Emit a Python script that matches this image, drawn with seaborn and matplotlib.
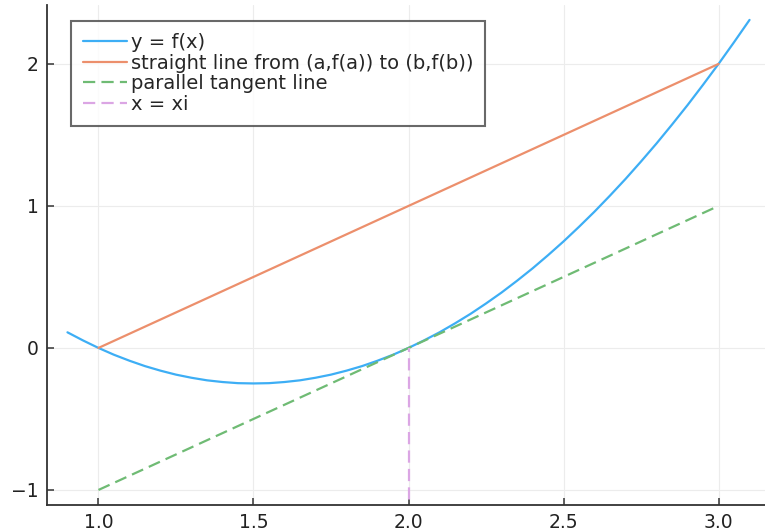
import numpy as np
import pandas as pd
import seaborn as sns
import matplotlib
matplotlib.use("Agg")
import matplotlib.pyplot as plt

# curve y = f(x)
curve_x = [0.90, 0.95, 1.00, 1.05, 1.10, 1.15, 1.20, 1.25, 1.30, 1.35, 1.40, 1.45,
           1.50, 1.55, 1.60, 1.65, 1.70, 1.75, 1.80, 1.85, 1.90, 1.95, 2.00, 2.05,
           2.10, 2.15, 2.20, 2.25, 2.30, 2.35, 2.40, 2.45, 2.50, 2.55, 2.60, 2.65,
           2.70, 2.75, 2.80, 2.85, 2.90, 2.95, 3.00, 3.05, 3.10]
curve_y = [0.11, 0.053, 0.0, -0.048, -0.09, -0.128, -0.16, -0.188, -0.21, -0.228, -0.24, -0.248,
           -0.25, -0.248, -0.24, -0.228, -0.21, -0.188, -0.16, -0.128, -0.09, -0.048, 0.0, 0.053,
           0.11, 0.173, 0.24, 0.313, 0.39, 0.473, 0.56, 0.653, 0.75, 0.853, 0.96, 1.073,
           1.19, 1.313, 1.44, 1.573, 1.71, 1.853, 2.0, 2.153, 2.31]

secant_x = [1.0, 3.0]
secant_y = [0.0, 2.0]

tangent_x = [1.0, 3.0]
tangent_y = [-1.0, 1.0]

xi_x = [2.0, 2.0]
xi_y = [-1.2, 0.0]

labels = ["y = f(x)", "straight line from (a,f(a)) to (b,f(b))",
          "parallel tangent line", "x = xi"]
colors = ["#3daef5", "#ec8f6c", "#6fbb74", "#dba6e4"]

sns.set_style("white")
plt.rcParams["font.family"] = ["DejaVu Sans"]

fig = plt.figure(figsize=(7.65, 5.31), dpi=100)
ax = fig.add_axes([47 / 765, 26 / 531, 723 / 765, 500 / 531])

dash = (0, (5.5, 2.8))
sns.lineplot(x=curve_x, y=curve_y, ax=ax, color=colors[0], lw=1.6, label=labels[0],
             sort=False, estimator=None)
sns.lineplot(x=secant_x, y=secant_y, ax=ax, color=colors[1], lw=1.6, label=labels[1],
             estimator=None)
sns.lineplot(x=tangent_x, y=tangent_y, ax=ax, color=colors[2], lw=1.6, label=labels[2],
             linestyle=dash, estimator=None)
sns.lineplot(x=xi_x, y=xi_y, ax=ax, color=colors[3], lw=1.6, label=labels[3],
             linestyle=dash, sort=False, estimator=None)

ax.set_xlim(0.834, 3.166)
ax.set_ylim(-1.106, 2.415)
ax.set_xticks([1.0, 1.5, 2.0, 2.5, 3.0])
ax.set_xticklabels(["1.0", "1.5", "2.0", "2.5", "3.0"])
ax.set_yticks([-1, 0, 1, 2])
ax.set_yticklabels(["\u22121", "0", "1", "2"])

ax.grid(True, color="#ececec", lw=0.8)
for s in ["top", "right"]:
    ax.spines[s].set_visible(False)
for s in ["left", "bottom"]:
    ax.spines[s].set_color("#333333")
    ax.spines[s].set_linewidth(1.3)
ax.tick_params(direction="in", length=5, width=1.1, color="#333333",
               labelsize=13.5, labelcolor="#222222", left=True, bottom=True, pad=6)

leg = ax.legend(loc="upper left", bbox_to_anchor=(0.033, 0.967), fontsize=14,
                frameon=True, fancybox=False, handlelength=2.3, handletextpad=0.2,
                labelspacing=0.08, borderpad=0.6, borderaxespad=0)
leg.get_frame().set_edgecolor("#444444")
leg.get_frame().set_linewidth(1.5)

fig.savefig("out.png", dpi=100)
